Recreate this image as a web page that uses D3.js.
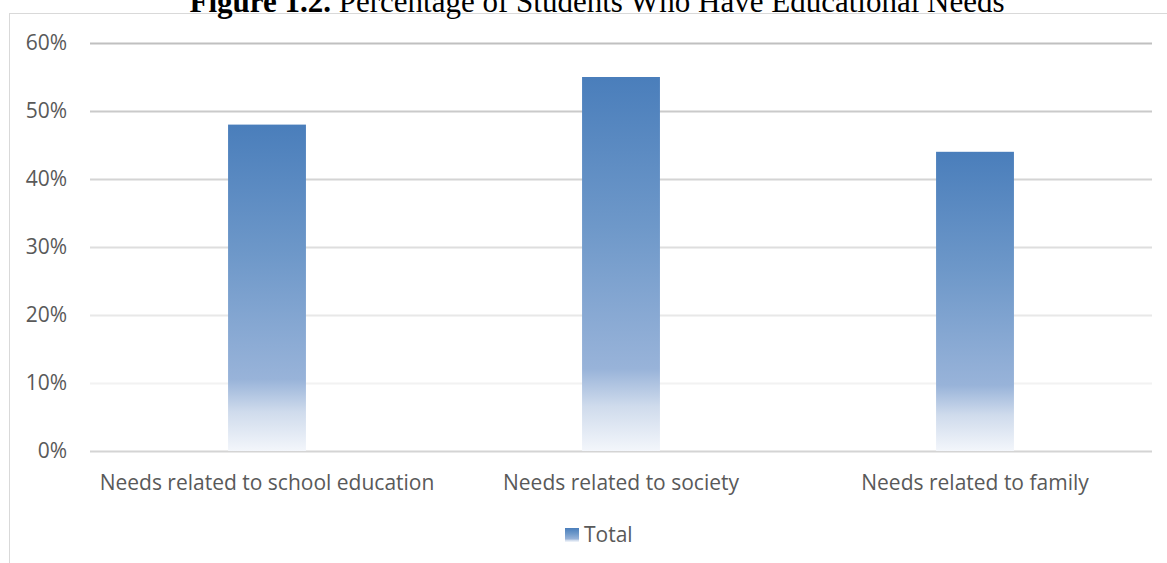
<!DOCTYPE html>
<html>
<head>
<meta charset="utf-8">
<script src="https://cdn.jsdelivr.net/npm/d3@7"></script>
<style>
  body { margin: 0; background: #fff; }
  svg { display: block; }
</style>
</head>
<body>
<svg id="chart"></svg>
<script>
var categories = ['Needs related to school education', 'Needs related to society', 'Needs related to family'];
var totalValues = [48, 55, 44];
var yTicks = [0, 10, 20, 30, 40, 50, 60];
var seriesName = 'Total';
var titleBold = 'Figure 1.2.';
var titleRest = ' Percentage of Students Who Have Educational Needs';

var svgWidth = 1167;
var svgHeight = 563;
var plot = {left: 90, right: 1152, top: 43, bottom: 451};
var labelFont = '"Open Sans", sans-serif';

var svg = d3.select('#chart').attr('width', svgWidth).attr('height', svgHeight);

// gradient fill like the office chart
var defs = svg.append('defs');
var grad = defs.append('linearGradient')
    .attr('id', 'barGrad')
    .attr('x1', 0).attr('y1', 0).attr('x2', 0).attr('y2', 1);
grad.append('stop').attr('offset', '0%').attr('stop-color', '#4a7ebb');
grad.append('stop').attr('offset', '40%').attr('stop-color', '#6e98c9');
grad.append('stop').attr('offset', '78%').attr('stop-color', '#98b3d9');
grad.append('stop').attr('offset', '88%').attr('stop-color', '#cfdbec');
grad.append('stop').attr('offset', '100%').attr('stop-color', '#f3f6fb');

// chart frame
svg.append('rect')
    .attr('x', 9.5).attr('y', 13.5)
    .attr('width', svgWidth + 20).attr('height', svgHeight + 20)
    .attr('fill', 'none').attr('stroke', '#d9d9d9');

// title (cut off at the top, as in the source)
var title = svg.append('text')
    .attr('x', 597).attr('y', 12)
    .attr('text-anchor', 'middle')
    .style('font-family', '"Liberation Serif", serif')
    .style('font-size', '31px')
    .attr('fill', '#000');
title.append('tspan').style('font-weight', 'bold').text(titleBold);
title.append('tspan').text(titleRest);

var xScale = d3.scaleBand()
    .domain(categories)
    .range([plot.left, plot.right])
    .padding(0);

var yScale = d3.scaleLinear()
    .domain([0, 60])
    .range([plot.bottom, plot.top]);

var gridColor = d3.scaleLinear().domain([10, 60]).range(['#f2f2f2', '#c0c0c0']);

// gridlines
svg.append('g').selectAll('line')
    .data(yTicks)
    .enter()
    .append('line')
    .attr('x1', plot.left).attr('x2', plot.right)
    .attr('y1', function(d){ return Math.round(yScale(d)) + 0.5; })
    .attr('y2', function(d){ return Math.round(yScale(d)) + 0.5; })
    .attr('stroke', function(d){ return d == 0 ? '#d4d4d4' : gridColor(d); })
    .attr('stroke-width', 2);

// y axis labels
var yAxis = d3.axisLeft(yScale)
    .tickValues(yTicks)
    .tickSize(0)
    .tickPadding(0)
    .tickFormat(function(d){ return d + '%'; });
var yG = svg.append('g')
    .attr('transform', 'translate(67,0)')
    .call(yAxis);
yG.select('.domain').remove();
yG.selectAll('text')
    .style('font-family', labelFont)
    .style('font-size', '21px')
    .attr('fill', '#595959');

// bars
var barWidth = xScale.bandwidth() * 0.22;
svg.append('g').selectAll('.bar')
    .data(totalValues)
    .enter()
    .append('rect')
    .classed('bar', true)
    .attr('x', function(d, i){ return xScale(categories[i]) + xScale.bandwidth() / 2 - barWidth / 2; })
    .attr('width', barWidth)
    .attr('y', function(d){ return yScale(d); })
    .attr('height', function(d){ return yScale(0) - yScale(d); })
    .attr('fill', 'url(#barGrad)');

// x axis labels
var xAxis = d3.axisBottom(xScale).tickSize(0).tickPadding(0);
var xG = svg.append('g')
    .attr('transform', 'translate(0,' + (plot.bottom + 24) + ')')
    .call(xAxis);
xG.select('.domain').remove();
xG.selectAll('text')
    .attr('dy', '0.71em')
    .style('font-family', labelFont)
    .style('font-size', '21px')
    .attr('fill', '#595959');

// legend
var legend = svg.append('g').attr('transform', 'translate(565,528)');
legend.append('rect')
    .attr('width', 14).attr('height', 14)
    .attr('fill', 'url(#barGrad)');
legend.append('text')
    .attr('x', 19).attr('y', 7)
    .attr('dy', '0.35em')
    .style('font-family', labelFont)
    .style('font-size', '21px')
    .attr('fill', '#595959')
    .text(seriesName);
</script>
</body>
</html>
